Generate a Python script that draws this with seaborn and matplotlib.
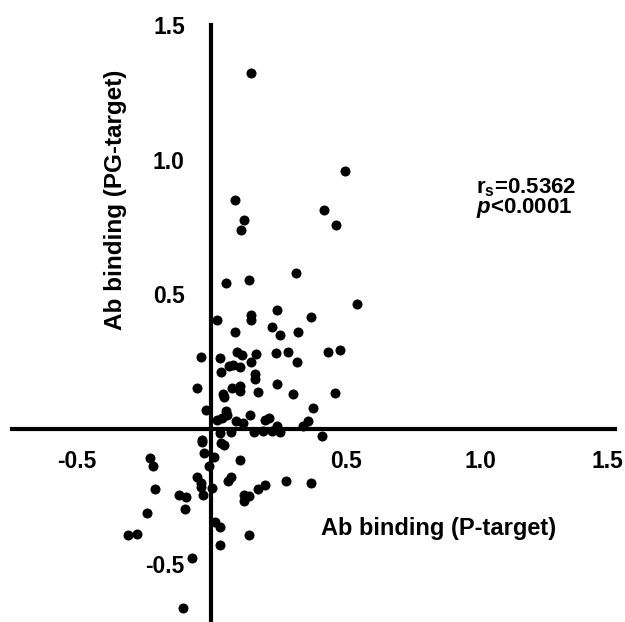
import numpy as np
import pandas as pd
import matplotlib
matplotlib.use("Agg")
import matplotlib.pyplot as plt
import matplotlib.transforms as mtransforms
import seaborn as sns

# Ab binding values
p_target = [0.148, 0.496, 0.089, 0.420, 0.120, 0.109, 0.463, 0.314, 0.053, 0.141,
            0.541, 0.022, 0.246, 0.146, 0.146, 0.371, 0.090, 0.225, 0.257, 0.322,
            -0.037, 0.033, 0.095, 0.115, 0.167, 0.240, 0.285, 0.432, 0.479, 0.146,
            0.320, 0.080, 0.065, 0.108, 0.038, 0.161, 0.161, -0.053, 0.078, 0.108,
            0.105, 0.246, 0.175, 0.044, 0.049, 0.305, 0.460, -0.019, 0.377, 0.056,
            0.059, 0.143, 0.021, 0.040, 0.093, 0.117, 0.198, 0.216, 0.359, 0.339,
            0.244, 0.031, 0.075, 0.157, 0.191, 0.226, 0.256, 0.410, -0.036, -0.034,
            0.036, 0.047, -0.027, 0.012, -0.226, -0.216, 0.108, -0.007, 0.074, 0.061,
            -0.052, -0.037, -0.037, 0.277, 0.370, -0.209, 0.004, 0.198, 0.175, -0.120,
            -0.095, -0.031, 0.123, 0.139, 0.121, -0.099, -0.237, 0.013, 0.031, -0.311,
            -0.275, 0.142, 0.034, -0.072, -0.105]
pg_target = [1.321, 0.958, 0.848, 0.814, 0.774, 0.738, 0.758, 0.579, 0.542, 0.554,
             0.462, 0.403, 0.440, 0.422, 0.404, 0.417, 0.360, 0.380, 0.348, 0.361,
             0.266, 0.262, 0.287, 0.273, 0.278, 0.281, 0.287, 0.285, 0.294, 0.250,
             0.250, 0.239, 0.232, 0.230, 0.211, 0.204, 0.184, 0.153, 0.152, 0.158,
             0.140, 0.168, 0.138, 0.131, 0.120, 0.128, 0.135, 0.071, 0.079, 0.068,
             0.053, 0.052, 0.033, 0.039, 0.028, 0.021, 0.034, 0.039, 0.030, 0.009,
             0.009, -0.015, -0.013, -0.012, -0.007, -0.009, -0.013, -0.027, -0.042, -0.048,
             -0.051, -0.058, -0.088, -0.103, -0.108, -0.138, -0.114, -0.138, -0.177, -0.195,
             -0.180, -0.202, -0.214, -0.192, -0.202, -0.222, -0.221, -0.208, -0.223, -0.244,
             -0.254, -0.245, -0.247, -0.250, -0.266, -0.296, -0.312, -0.346, -0.366, -0.395,
             -0.392, -0.395, -0.431, -0.480, -0.666]
ticks = [-0.5, 0.5, 1.0, 1.5]
tick_labels = ["-0.5", "0.5", "1.0", "1.5"]

df = pd.DataFrame({"P": p_target, "PG": pg_target})

sns.set_style("white")
plt.rcParams["font.family"] = ["Liberation Sans", "DejaVu Sans"]
plt.rcParams["font.weight"] = "bold"
plt.rcParams["text.color"] = "black"
plt.rcParams["axes.labelcolor"] = "black"
plt.rcParams["xtick.color"] = "black"
plt.rcParams["ytick.color"] = "black"
plt.rcParams["mathtext.fontset"] = "custom"
plt.rcParams["mathtext.rm"] = "Liberation Sans:bold"
plt.rcParams["mathtext.it"] = "Liberation Sans:bold:italic"
plt.rcParams["mathtext.bf"] = "Liberation Sans:bold"

fig = plt.figure(figsize=(6.25, 6.22), dpi=100)
ax = fig.add_axes([0.0192, 0.0, 0.965, 0.96])

sns.scatterplot(data=df, x="P", y="PG", color="black", s=52,
                linewidth=0, edgecolor=None, ax=ax)

ax.set_xlim(-0.74, 1.5)
ax.set_ylim(-0.717, 1.5)

for side in ["top", "right"]:
    ax.spines[side].set_visible(False)
for side in ["left", "bottom"]:
    ax.spines[side].set_position(("data", 0))
    ax.spines[side].set_linewidth(3)
    ax.spines[side].set_color("black")

ax.set_xticks(ticks)
ax.set_xticklabels(tick_labels)
ax.set_yticks(ticks)
ax.set_yticklabels(tick_labels)
ax.tick_params(axis="both", direction="out", length=9, width=2.5,
               color="black", labelcolor="black", labelsize=16.5)
ax.tick_params(axis="x", pad=6)
ax.tick_params(axis="y", pad=10)
for lab in ax.get_xticklabels() + ax.get_yticklabels():
    lab.set_fontweight("bold")

# keep the last x label inside the figure, as in the original
last = ax.get_xticklabels()[-1]
last.set_transform(last.get_transform() +
                   mtransforms.ScaledTranslation(-7.5 / 100, 0, fig.dpi_scale_trans))

ax.set_xlabel("Ab binding (P-target)", fontsize=17, fontweight="bold")
ax.xaxis.label.set_va("center")
ax.xaxis.set_label_coords(0.708, 0.157)
ax.set_ylabel("Ab binding (PG-target)", fontsize=17.5, fontweight="bold")
ax.yaxis.label.set_va("center")
ax.yaxis.set_label_coords(0.172, 0.707)

ax.text(0.985, 0.857, "$\\mathrm{r_s}$=0.5362\n$\\mathit{p}$<0.0001",
        fontsize=16, fontweight="bold", ha="left", va="center",
        linespacing=0.8)

fig.savefig("out.png", dpi=100, facecolor="white")
